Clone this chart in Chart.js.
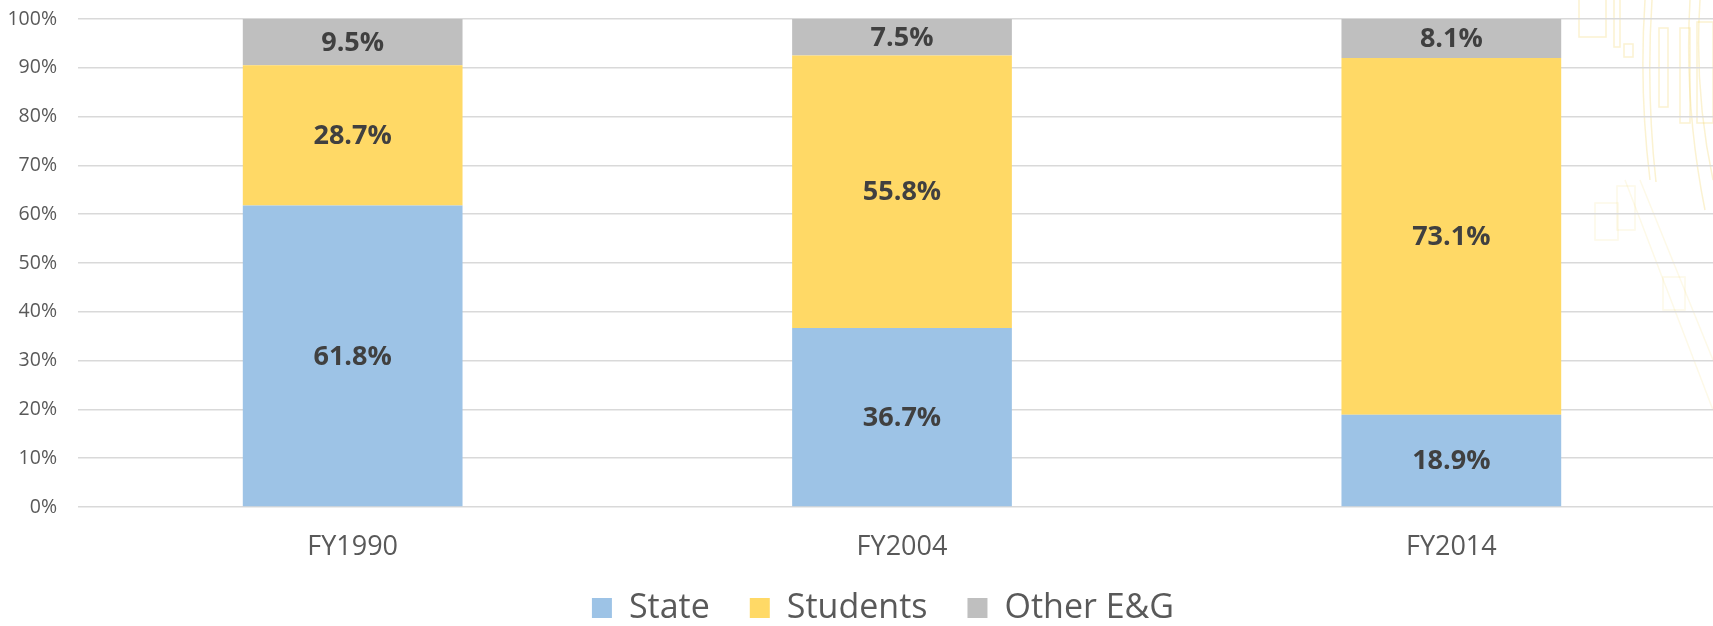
<!DOCTYPE html>
<html>
<head>
<meta charset="utf-8">
<script src="https://cdn.jsdelivr.net/npm/chart.js@4.4.1/dist/chart.umd.min.js"></script>
<style>
  html, body { margin: 0; padding: 0; background: #fff; overflow: hidden; }
  #wrap { position: relative; width: 1726px; height: 626px; }
</style>
</head>
<body>
<div id="wrap"><canvas id="fundingChart"></canvas></div>
<script>
// fiscal years and the share of E&G revenue by source (percent)
const years = ['FY1990', 'FY2004', 'FY2014'];
const stateShare = [61.8, 36.7, 18.9];
const studentShare = [28.7, 55.8, 73.1];
const otherShare = [9.5, 7.5, 8.1];
const yTicks = [0, 10, 20, 30, 40, 50, 60, 70, 80, 90, 100];

const FONT = '"Open Sans", "Noto Sans", sans-serif';

// value labels centred in each bar segment
const segmentLabels = {
  id: 'segmentLabels',
  afterDatasetsDraw(chart) {
    const ctx = chart.ctx;
    ctx.save();
    ctx.font = 'bold 27px ' + FONT;
    ctx.fillStyle = '#404040';
    ctx.textAlign = 'center';
    ctx.textBaseline = 'middle';
    chart.data.datasets.forEach((ds, i) => {
      const meta = chart.getDatasetMeta(i);
      meta.data.forEach((bar, j) => {
        const cy = (bar.y + bar.base) / 2;
        ctx.fillText(ds.data[j].toFixed(1) + '%', bar.x, cy + 1);
      });
    });
    ctx.restore();
  }
};

// nudge the legend row so it sits where the slide has it
const legendShift = {
  id: 'legendShift',
  afterLayout(chart) {
    const lg = chart.legend;
    lg.left += 20;
    lg.right += 20;
    lg.top -= 12;
    lg.bottom -= 12;
  }
};

// faint gold line-work in the top right corner of the slide
const cornerArt = {
  id: 'cornerArt',
  beforeDraw(chart) {
    const ctx = chart.ctx;
    ctx.save();
    ctx.strokeStyle = 'rgba(240, 210, 90, 0.28)';
    ctx.lineWidth = 1.5;
    [[1579, -5, 1606, 37], [1614, -5, 1620, 47], [1624, 44, 1633, 57],
     [1659, 28, 1668, 107], [1680, 28, 1690, 123], [1697, 22, 1713, 123]].forEach(([x1, y1, x2, y2]) => {
      ctx.strokeRect(x1, y1, x2 - x1, y2 - y1);
    });
    // long curved strokes
    [[1645, 0, 1650, 180], [1652, 0, 1656, 182], [1690, 0, 1705, 210], [1700, 0, 1713, 180]].forEach(([x1, y1, x2, y2]) => {
      ctx.beginPath();
      ctx.moveTo(x1, y1);
      ctx.quadraticCurveTo(x1 - 6, (y1 + y2) / 2, x2, y2);
      ctx.stroke();
    });
    ctx.strokeStyle = 'rgba(240, 210, 90, 0.14)';
    [[1595, 203, 1618, 240], [1617, 186, 1635, 230], [1663, 277, 1685, 310]].forEach(([x1, y1, x2, y2]) => {
      ctx.strokeRect(x1, y1, x2 - x1, y2 - y1);
    });
    ctx.beginPath();
    ctx.moveTo(1625, 180); ctx.lineTo(1713, 410);
    ctx.moveTo(1640, 180); ctx.lineTo(1713, 360);
    ctx.stroke();
    ctx.restore();
  }
};

const chart = new Chart(document.getElementById('fundingChart'), {
  type: 'bar',
  data: {
    labels: years,
    datasets: [
      { label: 'State', data: stateShare, backgroundColor: '#9DC3E6' },
      { label: 'Students', data: studentShare, backgroundColor: '#FFD966' },
      { label: 'Other E&G', data: otherShare, backgroundColor: '#BFBFBF' }
    ]
  },
  options: {
    responsive: true,
    maintainAspectRatio: false,
    animation: false,
    barPercentage: 0.4,
    categoryPercentage: 1.0,
    layout: { padding: { top: 19, right: 0, left: 0, bottom: -21 } },
    scales: {
      x: {
        stacked: true,
        grid: { display: false, drawTicks: false },
        border: { display: false },
        ticks: { color: '#595959', font: { family: FONT, size: 27 }, padding: 24 },
        afterFit(scale) { scale.height = 56; }
      },
      y: {
        stacked: true,
        min: 0,
        max: 100,
        afterBuildTicks(scale) { scale.ticks = yTicks.map(v => ({ value: v })); },
        grid: { color: '#D9D9D9', lineWidth: 1.5, drawTicks: false },
        border: { display: false },
        ticks: {
          color: '#595959',
          font: { family: FONT, size: 19.5 },
          padding: 21,
          callback: v => v + '%'
        },
        afterFit(scale) {
          scale.width = 78;
          scale.paddingTop = 0;
          scale.paddingBottom = 0;
        }
      }
    },
    plugins: {
      legend: {
        position: 'bottom',
        labels: {
          color: '#595959',
          font: { family: FONT, size: 34 },
          boxWidth: 20,
          boxHeight: 20,
          padding: 40
        }
      },
      tooltip: { enabled: false }
    }
  },
  plugins: [cornerArt, legendShift, segmentLabels]
});
</script>
</body>
</html>
